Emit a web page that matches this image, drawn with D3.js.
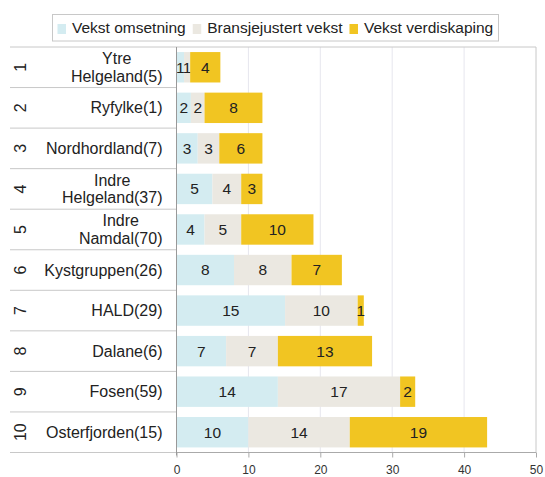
<!DOCTYPE html>
<html><head><meta charset="utf-8">
<script src="https://cdn.jsdelivr.net/npm/d3@7"></script>
<style>
html,body{margin:0;padding:0;background:#fff;}
svg{display:block;font-family:"Liberation Sans",Arial,sans-serif;}
</style></head>
<body><svg id="c" width="545" height="477"></svg>
<script>
const categories = ["Ytre\nHelgeland(5)", "Ryfylke(1)", "Nordhordland(7)", "Indre\nHelgeland(37)", "Indre\nNamdal(70)", "Kystgruppen(26)", "HALD(29)", "Dalane(6)", "Fosen(59)", "Osterfjorden(15)"];
const rowNumbers = ["1","2","3","4","5","6","7","8","9","10"];
const seriesNames = ["Vekst omsetning", "Bransjejustert vekst", "Vekst verdiskaping"];
const vekstOmsetning = [1.05, 2.0, 2.95, 5.0, 3.9, 8.0, 15.1, 6.9, 14.1, 10.0];
const bransjejustertVekst = [0.85, 1.9, 3.0, 4.0, 5.1, 8.0, 10.1, 7.2, 17.0, 14.1];
const vekstVerdiskaping = [4.2, 8.05, 6.0, 2.95, 10.05, 7.0, 0.85, 13.1, 2.1, 19.1];
const xTicks = [0, 10, 20, 30, 40, 50];
const colors = ["#d4ecf1", "#ebe8e1", "#f1c522"];

const svg = d3.select("#c");
const pL = 176.5, pR = 536, pT = 47, pB = 452.5;
const x = d3.scaleLinear().domain([0, 50]).range([pL, pR]);
const yRow = d3.scaleBand().domain(categories).range([pT, pB]);
const yBar = d3.scaleBand().domain(categories).range([pT, pB]).paddingInner(0.25).paddingOuter(0.125);

// gridlines
svg.append("g").selectAll("line").data(xTicks.slice(1, -1)).join("line")
  .attr("x1", d => x(d)).attr("x2", d => x(d)).attr("y1", pT).attr("y2", pB)
  .attr("stroke", "#e6e6ee").attr("stroke-width", 1);

// frame
svg.append("line").attr("x1", 10).attr("x2", pR).attr("y1", pT).attr("y2", pT).attr("stroke", "#c8c8c8");
svg.append("line").attr("x1", pR).attr("x2", pR).attr("y1", pT).attr("y2", pB).attr("stroke", "#c8c8c8");

// row separators
svg.append("g").selectAll("line").data(d3.range(1, categories.length + 1)).join("line")
  .attr("x1", 10).attr("x2", pL).attr("y1", i => pT + i * yRow.step()).attr("y2", i => pT + i * yRow.step())
  .attr("stroke", "#c8c8c8");

// stacked bars
const table = categories.map((c, i) => ({cat: c, a: vekstOmsetning[i], b: bransjejustertVekst[i], c: vekstVerdiskaping[i]}));
const stack = d3.stack().keys(["a", "b", "c"])(table);
const g = svg.append("g");
stack.forEach((layer, k) => {
  g.append("g").selectAll("rect").data(layer).join("rect")
    .attr("x", d => x(d[0])).attr("width", d => x(d[1]) - x(d[0]))
    .attr("y", d => yBar(d.data.cat)).attr("height", yBar.bandwidth())
    .attr("fill", colors[k]);
  g.append("g").selectAll("text").data(layer).join("text")
    .attr("x", d => (x(d[0]) + x(d[1])) / 2)
    .attr("y", d => yBar(d.data.cat) + yBar.bandwidth() / 2)
    .attr("dy", "0.35em").attr("text-anchor", "middle")
    .attr("font-size", "15.5px").attr("fill", "#222")
    .text(d => Math.round(d[1] - d[0]));
});

// x axis
const xAxis = d3.axisBottom(x).tickValues(xTicks).tickSize(5).tickPadding(8).tickFormat(d3.format("d"));
const ax = svg.append("g").attr("transform", `translate(0,${pB})`).call(xAxis);
ax.select(".domain").attr("stroke", "#aaa").attr("d", `M${pL},0H${pR}`);
ax.selectAll(".tick line").attr("stroke", "#aaa");
ax.selectAll(".tick text").attr("font-size", "12px").attr("fill", "#333").attr("font-family", "Liberation Sans, Arial, sans-serif");

// left axis line
svg.append("line").attr("x1", pL).attr("x2", pL).attr("y1", pT).attr("y2", pB + 3).attr("stroke", "#999");

// category labels
const labels = svg.append("g");
categories.forEach((c, i) => {
  const lines = c.split("\n");
  const cy = yRow(c) + yRow.bandwidth() / 2;
  const lh = 17.5;
  const t = labels.append("text").attr("font-size", "16px").attr("fill", "#222").attr("text-anchor", "middle");
  lines.forEach((ln, j) => {
    t.append("tspan").attr("y", cy + (j - (lines.length - 1) / 2) * lh).attr("dy", "0.35em").text(ln);
  });
  let maxW = 0;
  t.selectAll("tspan").each(function() { maxW = Math.max(maxW, this.getComputedTextLength()); });
  t.selectAll("tspan").attr("x", 162.5 - maxW / 2);
  svg.append("text").attr("transform", `translate(20,${cy}) rotate(-90)`)
    .attr("text-anchor", "middle").attr("dy", "0.35em").attr("font-size", "16px").attr("fill", "#222")
    .text(rowNumbers[i]);
});

// legend
const lg = svg.append("g");
lg.append("rect").attr("x", 52.5).attr("y", 14.5).attr("width", 446).attr("height", 26.5)
  .attr("fill", "#fff").attr("stroke", "#c8c8c8");
let lx = 57.5;
seriesNames.forEach((s, k) => {
  lg.append("rect").attr("x", lx).attr("y", 24).attr("width", 8.5).attr("height", 10).attr("fill", colors[k]);
  const tt = lg.append("text").attr("x", lx + 14.5).attr("y", 28).attr("dy", "0.35em")
    .attr("font-size", "15.5px").attr("fill", "#222").text(s);
  lx += 14.5 + tt.node().getComputedTextLength() + 7;
});
</script></body></html>
